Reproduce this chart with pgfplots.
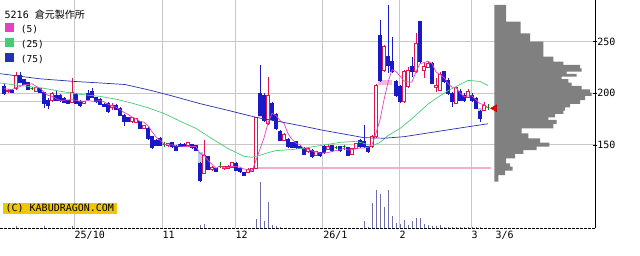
\documentclass[border=0pt]{standalone}
\usepackage{fontspec}
\setmainfont{DejaVu Sans Mono}
\newfontfamily\cjk{Noto Sans CJK JP}
\usepackage{pgfplots}
\usepackage{pgfplotstable}
\usepgfplotslibrary{statistics}
\pgfplotsset{compat=1.18}

\definecolor{upred}{RGB}{225,20,80}
\definecolor{dnblue}{RGB}{25,25,200}
\definecolor{djgreen}{RGB}{0,130,0}
\definecolor{ma5c}{RGB}{228,64,196}
\definecolor{ma25c}{RGB}{70,205,115}
\definecolor{ma75c}{RGB}{35,50,175}
\definecolor{volc}{RGB}{110,110,170}
\definecolor{profc}{RGB}{128,128,128}
\definecolor{pinkl}{RGB}{242,175,205}
\definecolor{gapb}{RGB}{185,205,240}
\definecolor{gapp}{RGB}{245,185,215}
\definecolor{kabu}{RGB}{240,198,0}
\definecolor{gridc}{RGB}{200,200,200}

% candles: x = pixel position, lo = low, bot/top = body, hi = high
\pgfplotstableread{
x lo bot top hi
8 201 201.6 203.2 204.5
16 203.5 205 217.7 220.3
36 201.6 202.2 205.4 206.4
52 192 192.8 200 201
72 190.3 191.3 201 215.2
84 189.5 190.3 191.9 192.8
112 183.9 186.1 188.7 190.3
132 171.9 172.6 176.4 177
136 171.5 172.3 175.8 176.4
144 165.5 166.1 168.7 169.5
168 148.8 149.4 151.6 152.2
188 149.4 150 152.2 153.2
204 121.9 122.6 140.3 154.8
212 125.5 126.1 128.4 129.5
224 126.2 127 129 130
228 126.6 127.4 129.7 130.5
232 127.4 128.4 132.9 133.9
248 122.6 123.6 126.8 127.6
252 123.5 124.5 127 127.8
256 127.4 127.4 176.8 176.8
268 169.4 171 198.4 216.1
284 154.2 154.8 160.3 161.3
308 142.6 143.5 146.8 147.7
316 139.7 140.3 143.5 144.5
328 145.2 145.8 148.4 151
352 140.6 141.3 146.8 147.4
356 146.1 146.8 151.6 152.3
372 147.7 148.4 158.7 159.7
376 157.4 158.1 208.1 209
384 221 222.6 245.2 246.8
404 190.9 191.9 221 222.6
408 204.8 206.5 222.6 225.8
416 220 221 248.4 258.1
424 214.5 221.9 225.8 229
428 224.2 225.2 229 231.6
436 201.6 205.8 207.7 214.5
440 202.6 203.2 218.7 221
456 189.7 190.3 205.8 207.1
468 195.2 196.1 201.6 203.9
484 182.9 183.9 188.7 191.9
}\upT

\pgfplotstableread{
x lo bot top hi
4 198.4 200 207 208.7
12 200.3 201 203 203.8
20 209.7 210.6 217.7 220.5
24 208.1 208.9 213 213.8
28 203.2 204.2 210.3 211.3
40 200 201 204.8 205.4
44 185.5 190.3 201 201.6
48 185 188.7 193.5 195.8
56 192.5 193.5 198.4 202
60 191.9 193 197.8 199.4
64 190.3 191.3 195.2 196.2
68 189.8 190.3 193 193.8
76 189.4 190.3 199.4 200
80 187.1 188 191.9 193.5
88 193.9 194.5 200 203.2
92 195.2 196.1 201.6 205.5
96 191.3 191.9 195.8 196.8
100 188.7 189.4 194.2 195.2
104 186.8 187.5 189.7 190.3
108 181.2 182.2 190.3 191.3
116 183.5 184.5 188.7 189.4
120 178.1 179 185.5 186.5
124 168.7 172.6 178.4 179.6
128 172.6 173.2 176.4 177.4
140 165.5 166.1 172.6 173.2
148 154.8 156.4 166.1 167.4
152 146.7 147.4 158 159
156 149.4 150 154.8 155.8
160 149.4 150 156.4 158
172 147.7 148.4 152.6 153.2
176 144.5 145.1 149 150
180 148 148.7 151 151.6
184 148 148.7 151 151.6
192 146.8 147.4 150.6 151.3
196 144.2 145.1 149.4 150
200 114.5 116.1 132.2 133.9
208 125.8 126.8 138.7 139.7
216 124.2 124.8 127.4 128
236 124.8 125.8 132.2 133.2
240 123.6 124.2 127.4 128.1
244 120 120.9 123.6 124.2
260 179 179 200 227.4
264 172.6 174.2 198.4 200
272 173.5 174.8 190.3 191.9
276 164.5 166.1 179.7 180.6
280 154.2 154.8 163.5 164.5
288 147.4 148.4 155.5 156.4
292 147.1 147.7 152.3 153
296 146.8 147.4 153.2 154.2
300 146.1 146.8 149 149.7
304 140.3 141.3 146.8 147.7
312 138.1 138.7 145.2 145.8
320 139 139.7 142.6 143.2
324 141.9 142.6 148.4 150
332 143.9 144.5 149.4 150.3
340 143.9 144.5 148.4 149
348 139.7 140.3 147.4 148
360 147.7 148.4 154.2 155.5
364 146.8 148.4 153.2 169.4
368 142.6 143.5 148.4 149.4
380 211.3 212.9 256.5 271
388 219.4 227.4 235.5 285.5
392 219.4 221 230.6 254.8
396 196.8 198.4 211.3 212.9
400 190.3 191.9 206.5 208.1
412 216.1 221 225.8 235.5
420 229 230.6 269.4 270.3
432 209 209.7 229 230.6
444 210.3 211.3 221 222
448 198.4 200 212.9 214.5
452 187.1 191.9 200 201.6
460 192.9 193.5 201.6 203.9
464 191.9 193.5 198.4 200
472 191.9 193.5 198.4 200
476 184.5 185.5 195.2 196.8
480 172.6 175.8 182.3 183.9
}\dnT

\pgfplotstableread{
x lo bot top hi
32 203.2 204.8 204.8 206.4
164 148.4 150.6 150.6 153.2
220 127.4 129 129 133.9
336 145.8 147.7 147.7 149.4
344 145.5 148.4 148.4 150
488 183.9 186.5 186.5 189.7
}\djT

\pgfplotsset{
  upc/.style={draw=upred, fill=white, line width=0.8pt, solid, /pgfplots/boxplot/every box/.style={fill=white}},
  dnc/.style={draw=dnblue, fill=dnblue, line width=0.8pt, solid, /pgfplots/boxplot/every box/.style={fill=dnblue}},
  djc/.style={draw=djgreen, fill=djgreen, line width=0.8pt, solid},
}

\newcommand\drawcandles[2]{%
  \pgfplotstablegetrowsof{#1}%
  \pgfmathtruncatemacro\nrows{\pgfplotsretval-1}%
  \pgfplotsforeachungrouped \rowi in {0,...,\nrows}{%
    \pgfplotstablegetelem{\rowi}{x}\of#1\let\cX\pgfplotsretval
    \pgfplotstablegetelem{\rowi}{lo}\of#1\let\cLo\pgfplotsretval
    \pgfplotstablegetelem{\rowi}{bot}\of#1\let\cBot\pgfplotsretval
    \pgfplotstablegetelem{\rowi}{top}\of#1\let\cTop\pgfplotsretval
    \pgfplotstablegetelem{\rowi}{hi}\of#1\let\cHi\pgfplotsretval
    \edef\doplot{\noexpand\addplot[#2, forget plot, boxplot prepared={draw position=\cX, lower whisker=\cLo, lower quartile=\cBot, median=\cBot, upper quartile=\cTop, upper whisker=\cHi}] coordinates {};}%
    \doplot
  }%
}

\begin{document}
\begin{tikzpicture}
\useasboundingbox (0,0) rectangle (640pt,255pt);

% volume
\begin{axis}[at={(0pt,27pt)}, anchor=south west, scale only axis,
  width=595pt, height=228pt, xmin=0, xmax=595, ymin=0, ymax=228, hide axis]
\addplot[ycomb, draw=volc, line width=1pt] table {
x h
16 2
44 2.5
72 2.5
200 3
204 4.5
256 9.4
260 46
264 7
268 26
272 3.3
276 1.7
280 1
364 7
368 1.2
372 25
376 37.7
380 34.3
384 21
388 37.7
392 11.7
396 5
400 4.3
404 8.3
408 2.7
412 6.7
416 10
420 10
424 4
428 2.7
432 1.7
436 1.7
440 2.7
444 1.3
448 1.3
452 1.3
456 1.3
460 1.3
464 1.3
468 1.3
472 1.3
476 1.3
480 1.3
};
\end{axis}

\begin{axis}[at={(0pt,27pt)}, anchor=south west, scale only axis,
  width=595pt, height=228pt,
  xmin=0, xmax=595, ymin=69.6, ymax=290.3,
  axis x line*=bottom, axis y line*=right,
  axis line style={-},
  x axis line style={black, line width=0.9pt, dash pattern=on 3pt off 1pt},
  y axis line style={black, line width=0.9pt},
  xtick={74,162,235,322.7,399,471},
  xticklabels={25/10,11,12,26/1,2,3},
  extra x ticks={495}, extra x tick labels={3/6},
  extra x tick style={grid=none},
  ytick={150,200,250},
  grid=major, major grid style={gridc, line width=0.9pt},
  xtick style={draw=none},
  ytick style={black, line width=0.8pt},
  tick align=center, major tick length=4.5pt,
  /pgf/number format/assume math mode=true,
  xticklabel style={anchor=north west, inner sep=0pt, yshift=-1pt, xshift=0.5pt, font=\fontsize{10}{12}\selectfont},
  yticklabel style={anchor=west, inner sep=0pt, font=\fontsize{10}{12}\selectfont},
  boxplot/draw direction=y, boxplot/box extend=2.8, boxplot/whisker extend=0,
  legend style={at={(axis description cs:0,1)}, anchor=north west,
    xshift=5pt, yshift=-22.4pt, draw=none, fill=none, inner sep=0pt,
    row sep=0pt, column sep=7.5pt,
    font=\fontsize{9.5}{11}\selectfont,
    nodes={inner sep=0pt, text height=10pt, text depth=5pt}},
  legend cell align=left,
  legend image code/.code={\fill[#1] (0pt,-1pt) rectangle (7.5pt,6.5pt);},
]

% gap shading
\addplot[fill=gapb, draw=none, forget plot] coordinates {(198,132.3) (202.5,132.3) (202.5,143.5) (198,143.5)};
\addplot[fill=gapp, draw=none, forget plot] coordinates {(258.3,176.8) (263.3,176.8) (263.3,180.6) (258.3,180.6)};
\addplot[fill=gapp, draw=none, forget plot] coordinates {(378.3,208.1) (391.7,208.1) (391.7,212.9) (378.3,212.9)};
\addplot[fill=gapb, draw=none, forget plot] coordinates {(478,182.3) (483,182.3) (483,185.5) (478,185.5)};

% price-volume profile
\addplot[fill=profc, draw=none, forget plot] coordinates {
(494.3,285.5) (506,285.5) (506,269.4) (520.7,269.4) (520.7,258.1) (530,258.1) (530,250) (543.3,250)
(543.3,235.5) (553.3,235.5) (553.3,230.6) (563.3,230.6) (563.3,227.4) (580,227.4) (580,224.2) (581.7,224.2)
(581.7,221) (566.7,221) (566.7,218.7) (576.7,218.7) (576.7,216.1) (561.7,216.1) (561.7,213.6) (568.3,213.6)
(568.3,210.3) (571.7,210.3) (571.7,207.1) (581.7,207.1) (581.7,203.9) (590,203.9) (590,200.6) (591.7,200.6)
(591.7,197.4) (585,197.4) (585,193.5) (580,193.5) (580,189.7) (570,189.7) (570,186.4) (565,186.4)
(565,183.2) (563.3,183.2) (563.3,180) (555,180) (555,176.8) (548.3,176.8) (548.3,174.2) (556.7,174.2)
(556.7,170.3) (553.3,170.3) (553.3,166.1) (521.7,166.1) (521.7,161.3) (528.3,161.3) (528.3,156.4) (540,156.4)
(540,152.2) (549.3,152.2) (549.3,148.4) (536.7,148.4) (536.7,145.1) (523.3,145.1) (523.3,141.3) (515,141.3)
(515,137.1) (506,137.1) (506,132.2) (510,132.2) (510,129) (512.7,129) (512.7,125.1) (505,125.1)
(505,120.9) (498.3,120.9) (498.3,114.5) (494.3,114.5)};

% pink support lines
\addplot[pinkl, line width=2.2pt, forget plot] coordinates {(256,127.9) (490.5,127.9)};
\addplot[pinkl, line width=0.8pt, forget plot] coordinates {(0,192.3) (45,192.3)};

% candles
\drawcandles{\dnT}{dnc}
\drawcandles{\upT}{upc}
\drawcandles{\djT}{djc}

% moving averages
\addplot[color=ma5c, line width=0.7pt] coordinates {
(4,204.5) (8,204) (12,203.5) (16,205.5) (20,206.5) (24,208.3) (28,208.5) (32,209.2) (36,206.8) (40,204.9)
(44,201.1) (48,198.0) (52,197.1) (56,194.7) (60,193.1) (64,193.3) (68,193.6) (72,193.8) (76,193.2) (80,192.2)
(84,192.3) (88,193.1) (92,192.2) (96,192.5) (100,192.8) (104,191.9) (108,189.4) (112,187.9) (116,186.5) (120,184.4)
(124,181.4) (128,179.6) (132,177.1) (136,175.4) (140,172.8) (144,172.0) (148,168.7) (152,162.9) (156,157.7) (160,154.5)
(164,150.9) (168,149.9) (172,150.1) (176,149.1) (180,148.9) (184,148.5) (188,148.6) (192,148.4) (196,148.4) (200,141.9)
(204,140.2) (208,135.1) (212,131.3) (216,127.3) (220,129.9) (224,127.6) (228,128.2) (232,129.1) (236,129.3) (240,128.3)
(244,126.7) (248,126.1) (252,124.9) (256,135.1) (260,146.1) (264,156.8) (268,171.1) (272,180.6) (276,178.5) (280,173.7)
(284,170.9) (288,160.9) (292,155.5) (296,151.7) (300,150.1) (304,146.3) (308,146.0) (312,144.2) (316,143.4) (320,142.0)
(324,142.3) (328,142.6) (332,143.7) (336,144.6) (340,145.5) (344,146.7) (348,145.1) (352,145.5) (356,146.3) (360,147.1)
(364,147.1) (368,147.7) (372,150.1) (376,161.4) (380,174.3) (384,193.7) (388,210.5) (392,222.9) (396,221.0) (400,216.8)
(404,211.9) (408,211.0) (412,211.0) (416,221.0) (420,228.7) (424,229.7) (428,231.0) (432,228.7) (436,220.6) (440,218.2)
(444,215.3) (448,209.5) (452,205.9) (456,205.5) (460,200.5) (464,196.9) (468,197.3) (472,197.6) (476,193.5) (480,190.0)
(484,189.0) (488,186.0)};
\addlegendentry{(5)}
\addplot[color=ma25c, line width=0.7pt] coordinates {
(0,210) (20,207.5) (43,205) (60,202) (80,199) (100,197) (116,194.3) (132,190.5) (148,186) (164,180.5)
(180,173) (196,166) (212,156) (228,146.5) (244,139) (252,138) (260,140) (268,142.5) (276,144.5) (292,145.5)
(308,147.5) (324,150) (340,152.5) (356,153.5) (364,151.5) (372,149) (380,152.5) (388,159) (400,166) (412,175.5)
(428,189.5) (436,195) (448,202.5) (456,206.5) (468,212.5) (480,211.5) (488,207.5)};
\addlegendentry{(25)}
\addplot[color=ma75c, line width=0.7pt] coordinates {
(0,219) (40,214) (74,211.5) (100,210) (125,208.5) (150,203) (170,198) (200,190) (230,183) (257,176.5)
(280,172.5) (304,168) (324,164) (350,159.5) (364,157) (384,156.5) (404,158) (424,161) (444,164) (464,167) (488,170.5)};
\addlegendentry{(75)}

% current price marker
\addplot[only marks, mark=triangle*, mark size=4pt, mark options={rotate=90, fill=red, draw=red!70!black, line width=0.5pt}, forget plot] coordinates {(494.7,185.5)};
\end{axis}

\node[anchor=base west, inner sep=0pt, font=\fontsize{10}{12}\selectfont] at (4.5pt,236.7pt) {5216 {\cjk 倉元製作所}};
\node[fill=kabu, inner xsep=3pt, inner ysep=0.6pt, text height=7.5pt, text depth=2pt, font=\fontsize{10}{12}\selectfont] at (59.8pt,46.4pt) {(C) KABUDRAGON.COM};
\end{tikzpicture}
\end{document}
